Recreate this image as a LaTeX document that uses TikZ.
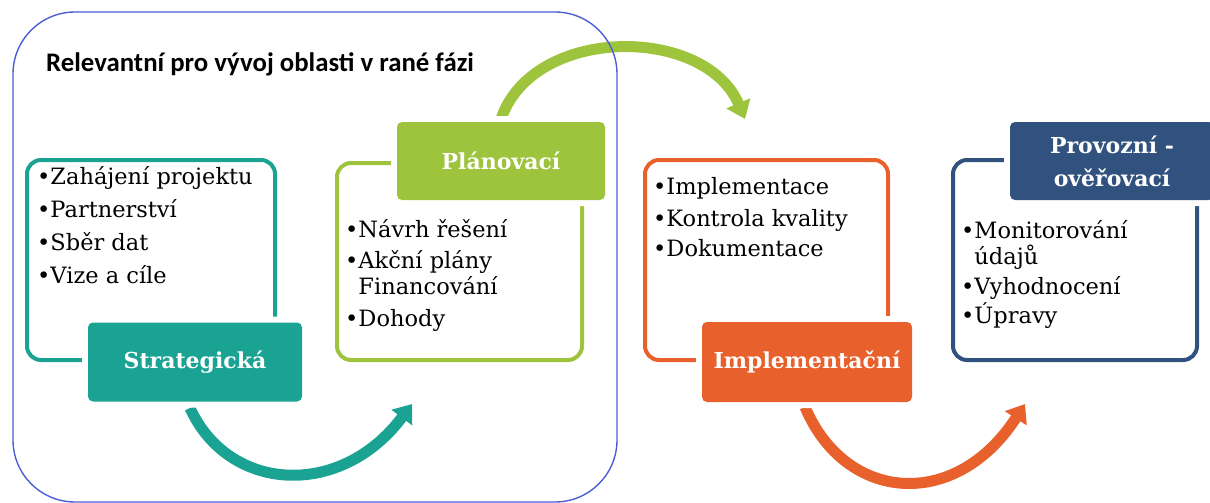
\documentclass[tikz,border=0pt]{standalone}
\usepackage{fontspec}
\setmainfont{DejaVu Serif}
\newfontfamily\titlefont{Carlito}
\usetikzlibrary{arrows.meta,calc}

\definecolor{stepteal}{HTML}{1AA393}
\definecolor{stepgreen}{HTML}{9DC43C}
\definecolor{steporange}{HTML}{E8602B}
\definecolor{stepnavy}{HTML}{31527F}
\definecolor{regionblue}{HTML}{4A5FD3}

\newcommand{\itemfont}{\fontsize{22.5}{29.5}\selectfont}
\newcommand{\headfont}{\fontsize{22}{33}\selectfont\bfseries}

\tikzset{
  phasebox/.style={draw=#1, line width=4pt, rounded corners=14pt, inner sep=0pt},
  phasehead/.style={fill=#1, rounded corners=5pt, text=white, font=\headfont,
    align=center, inner sep=0pt, preaction={draw=white, line width=12pt}},
  phaseflow/.style={draw=#1, line width=11pt, -{Triangle[width=25pt,length=17pt]}},
  itemlist/.style={anchor=base west, inner sep=0pt, font=\itemfont},
}

\begin{document}
\begin{tikzpicture}[x=1pt, y=-1pt]
\path[use as bounding box] (0,0) rectangle (1210,503);

% curved arrows between the phases
\coordinate (sFrom) at (190,408);
\coordinate (sTo)   at (412,404);
\coordinate (pFrom) at (501,119);
\coordinate (pTo)   at (745,119);
\coordinate (iFrom) at (805,407);
\coordinate (iTo)   at (1025,404);
\draw[phaseflow=stepteal]   (sFrom) .. controls (228,492) and (340,500) .. (sTo);
\draw[phaseflow=stepgreen]  (pFrom) .. controls (533,25) and (705,25) .. (pTo);
\draw[phaseflow=steporange] (iFrom) .. controls (845,502) and (955,512) .. (iTo);

% early-stage region
\node[draw=regionblue, line width=1.4pt, rounded corners=62pt,
      minimum width=604pt, minimum height=490pt, inner sep=0pt] (region) at (315,257) {};
\node[anchor=base west, inner sep=0pt, font=\titlefont\fontsize{26.8}{30}\selectfont\bfseries]
  (title) at (46,72) {Relevantní pro vývoj oblasti v rané fázi};

% Strategická
\node[phasebox=stepteal, minimum width=248pt, minimum height=200pt] (sBox) at (151,260) {};
\node[phasehead=stepteal, minimum width=214pt, minimum height=79pt] (sHead) at (195,362) {Strategická};
\node[itemlist] (sItems) at (37,184) {\begin{tabular}[t]{@{}l@{}}
  •Zahájení projektu\\[3.5pt]
  •Partnerství\\[3.5pt]
  •Sběr dat\\[3.5pt]
  •Vize a cíle
\end{tabular}};

% Plánovací
\node[phasebox=stepgreen, minimum width=245pt, minimum height=197pt] (pBox) at (459.5,261.5) {};
\node[phasehead=stepgreen, minimum width=208pt, minimum height=78pt] (pHead) at (501,161) {Plánovací};
\node[itemlist] (pItems) at (345,237) {\begin{tabular}[t]{@{}l@{}}
  •Návrh řešení\\[1.5pt]
  •Akční plány\\[-3pt]
  \phantom{•}Financování\\[2.5pt]
  •Dohody
\end{tabular}};

% Implementační
\node[phasebox=steporange, minimum width=243pt, minimum height=200pt] (iBox) at (766.5,260) {};
\node[phasehead=steporange, minimum width=210pt, minimum height=80pt] (iHead) at (807,362) {Implementační};
\node[itemlist] (iItems) at (653,194) {\begin{tabular}[t]{@{}l@{}}
  •Implementace\\[2.5pt]
  •Kontrola kvality\\[0.5pt]
  •Dokumentace
\end{tabular}};

% Provozní - ověřovací
\node[phasebox=stepnavy, minimum width=244pt, minimum height=200pt] (oBox) at (1075,260) {};
\node[phasehead=stepnavy, minimum width=204pt, minimum height=78pt] (oHead) at (1112,161) {Provozní -\\ověřovací};
\node[itemlist] (oItems) at (961,238) {\begin{tabular}[t]{@{}l@{}}
  •Monitorování\\[-3pt]
  \phantom{•}údajů\\[0.5pt]
  •Vyhodnocení\\[-0.5pt]
  •Úpravy
\end{tabular}};
\end{tikzpicture}
\end{document}
